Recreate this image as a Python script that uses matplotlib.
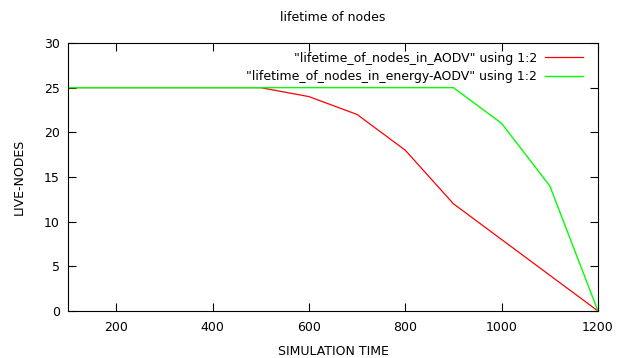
#!/usr/bin/env python3

# lifetime of nodes: AODV vs energy-aware AODV

import matplotlib as mpl
mpl.use('Agg')
import matplotlib.pyplot as plt

sim_time = [100, 200, 300, 400, 500, 600, 700, 800, 900, 1000, 1100, 1200]
nodes_aodv = [25, 25, 25, 25, 25, 24, 22, 18, 12, 8, 4, 0]
nodes_energy_aodv = [25, 25, 25, 25, 25, 25, 25, 25, 25, 21, 14, 0]

x_ticks = [200, 400, 600, 800, 1000, 1200]
y_ticks = [0, 5, 10, 15, 20, 25, 30]

plt.rcParams['font.family'] = 'DejaVu Sans'
plt.rcParams['font.size'] = 9

fig = plt.figure(figsize=(6.29, 3.58), dpi=100)
ax = fig.add_axes([0.1081, 0.1313, 0.8426, 0.7486])

ax.plot(sim_time, nodes_aodv, color='#ff0000', linewidth=0.9,
        label='"lifetime_of_nodes_in_AODV" using 1:2')
ax.plot(sim_time, nodes_energy_aodv, color='#00ff00', linewidth=1.0,
        label='"lifetime_of_nodes_in_energy-AODV" using 1:2')

ax.set_xlim(100, 1200)
ax.set_ylim(0, 30)
ax.set_xticks(x_ticks)
ax.set_yticks(y_ticks)
ax.tick_params(direction='in', length=6, width=0.8, top=True, right=True,
               labelsize=9)
ax.tick_params(axis='x', pad=7)
ax.tick_params(axis='y', pad=6)
for s in ax.spines.values():
    s.set_linewidth(0.8)

ax.set_title("lifetime of nodes", fontsize=9, pad=16)
ax.set_xlabel("SIMULATION TIME", fontsize=9, labelpad=8)
ax.set_ylabel("LIVE-NODES", fontsize=9, labelpad=13)

ax.legend(loc='upper right', bbox_to_anchor=(0.9717, 0.967), frameon=False,
          markerfirst=False, alignment='right', handlelength=3,
          handletextpad=0.65, labelspacing=0.45, borderpad=0,
          borderaxespad=0, fontsize=9)

plt.savefig("out.png")
